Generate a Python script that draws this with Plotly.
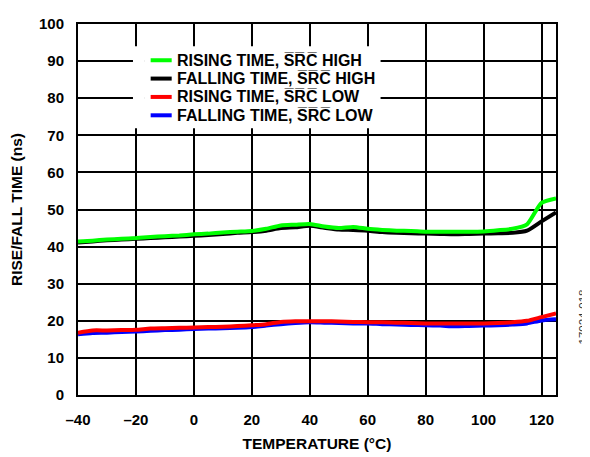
import plotly.graph_objects as go

temp = [-40, -35, -30, -25, -20, -15, -10, -5, 0, 5, 10, 15, 20, 25, 30, 35, 40, 45, 50, 55, 60, 65, 70, 75, 80, 85, 90, 95, 100, 105, 110, 115, 120, 125]

rise_high = [41.4, 41.6, 41.9, 42.1, 42.3, 42.6, 42.8, 43.0, 43.3, 43.5, 43.8, 44.0, 44.2, 44.8, 45.7, 45.9, 46.1, 45.4, 45.0, 45.3, 44.8, 44.5, 44.3, 44.2, 44.0, 44.0, 44.0, 44.0, 44.1, 44.4, 44.8, 46.0, 51.8, 53.0]
fall_high = [41.1, 41.4, 41.7, 41.9, 42.1, 42.3, 42.5, 42.7, 42.9, 43.1, 43.4, 43.7, 43.9, 44.3, 45.0, 45.2, 45.6, 45.1, 44.6, 44.5, 44.3, 43.9, 43.7, 43.6, 43.5, 43.4, 43.3, 43.4, 43.5, 43.6, 43.7, 44.3, 46.8, 49.2]
rise_low = [16.8, 17.4, 17.4, 17.5, 17.6, 17.9, 18.0, 18.1, 18.2, 18.3, 18.4, 18.6, 18.8, 19.1, 19.7, 19.9, 19.9, 19.9, 19.8, 19.7, 19.6, 19.6, 19.5, 19.4, 19.3, 19.3, 19.3, 19.3, 19.3, 19.4, 19.6, 20.0, 21.0, 22.0]
fall_low = [16.4, 16.7, 16.8, 17.0, 17.1, 17.3, 17.5, 17.6, 17.8, 17.9, 18.0, 18.1, 18.3, 18.7, 19.1, 19.4, 19.6, 19.5, 19.4, 19.3, 19.3, 19.1, 19.0, 18.9, 18.8, 18.7, 18.5, 18.6, 18.7, 18.8, 19.0, 19.3, 20.1, 20.4]

x_ticks = [-40, -20, 0, 20, 40, 60, 80, 100, 120]
x_ticktext = ["\u201340", "\u201320", "0", "20", "40", "60", "80", "100", "120"]
y_ticks = [0, 10, 20, 30, 40, 50, 60, 70, 80, 90, 100]

SRC = "S\u0305R\u0305C\u0305"
names = [f"RISING TIME, {SRC} HIGH", f"FALLING TIME, {SRC} HIGH",
         f"RISING TIME, {SRC} LOW", f"FALLING TIME, {SRC} LOW"]
colors = ["#00ff00", "#000000", "#ff0000", "#0000ff"]

FAM = "Liberation Sans, Arial, sans-serif"

fig = go.Figure()
series = [rise_high, fall_high, rise_low, fall_low]
draw_order = [3, 2, 1, 0]
for i in draw_order:
    fig.add_trace(go.Scatter(x=temp, y=series[i], mode="lines", name=names[i],
                             line=dict(color=colors[i], width=4, shape="spline", smoothing=0.6),
                             showlegend=False))

# legend box drawn in paper coordinates (layout decoration)
shapes = [
    dict(type="rect", xref="paper", yref="paper", x0=0.1396, x1=0.633, y0=0.719, y1=0.940,
         fillcolor="white", line=dict(width=0), layer="above"),
    dict(type="rect", xref="paper", yref="paper", x0=0.115, x1=0.14, y0=0.719, y1=0.940,
         fillcolor="white", line=dict(width=0), layer="above"),
]
annotations = []
row_y = [0.9023, 0.8529, 0.8034, 0.7539]
for i in range(4):
    shapes.append(dict(type="line", xref="paper", yref="paper", x0=0.152, x1=0.196,
                       y0=row_y[i], y1=row_y[i], line=dict(color=colors[i], width=4), layer="above"))
    annotations.append(dict(text=names[i], xref="paper", yref="paper", x=0.203, y=row_y[i],
                            xanchor="left", yanchor="middle", showarrow=False,
                            font=dict(family=FAM, size=16, color="#000000", weight="bold")))

annotations.append(dict(text="17024-018", xref="paper", yref="paper", x=1.056, y=0.211,
                        xanchor="center", yanchor="middle", textangle=-90, showarrow=False,
                        font=dict(family=FAM, size=11.5, color="#333333")))

fig.update_layout(
    width=582, height=449,
    margin=dict(l=68, r=34, t=7, b=58),
    paper_bgcolor="white", plot_bgcolor="white",
    font=dict(family=FAM, size=15, color="#000000"),
    showlegend=False,
    xaxis=dict(range=[-40, 125], tickvals=x_ticks, ticktext=x_ticktext,
               showgrid=True, gridcolor="#000000", gridwidth=1.5,
               showline=True, linecolor="#000000", linewidth=2, mirror=True,
               ticks="", zeroline=False, ticklabelstandoff=10,
               tickfont=dict(family=FAM, size=15, weight="bold"),
               title=dict(text="<b>TEMPERATURE (°C)</b>", standoff=11,
                          font=dict(family=FAM, size=15.5))),
    yaxis=dict(range=[0, 100], tickvals=y_ticks,
               showgrid=True, gridcolor="#000000", gridwidth=1.5,
               showline=True, linecolor="#000000", linewidth=2, mirror=True,
               ticks="", zeroline=False, ticklabelstandoff=9,
               tickfont=dict(family=FAM, size=15, weight="bold"),
               title=dict(text="<b>RISE/FALL TIME (ns)</b>", standoff=13,
                          font=dict(family=FAM, size=15.5))),
    shapes=shapes,
    annotations=annotations,
)

fig.write_html("out.html")
